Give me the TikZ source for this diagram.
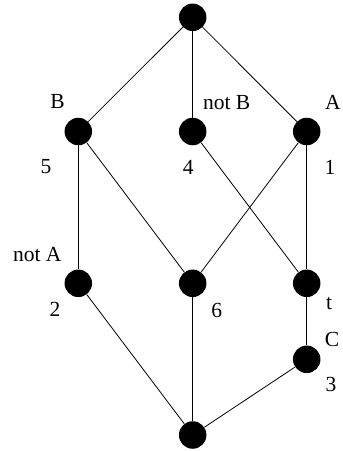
\documentclass[tikz,border=0pt]{standalone}
\usepackage{fontspec}
\setmainfont{Liberation Serif}
\begin{document}
\begin{tikzpicture}[x=1pt,y=-1pt,
  dot/.style={circle,fill=black,draw=none,minimum size=27.5pt,inner sep=0pt},
  lbl/.style={inner sep=0pt,text height=0.66em,text depth=0pt,font=\fontsize{21.5}{25}\selectfont},
  edge/.style={line width=0.8pt}]
\useasboundingbox (0,0) rectangle (343,451);
\node[dot] (top) at (192.7,17.3) {};
\node[dot] (B) at (78.3,131.5) {};
\node[dot] (nB) at (192.7,131.5) {};
\node[dot] (A) at (306.7,131.5) {};
\node[dot] (nA) at (78.3,283.3) {};
\node[dot] (six) at (192.7,283.3) {};
\node[dot] (t) at (306.7,283.3) {};
\node[dot] (C) at (306.7,359.3) {};
\node[dot] (bot) at (192.7,435) {};
\draw[edge] (top) -- (B);
\draw[edge] (top) -- (nB);
\draw[edge] (top) -- (A);
\draw[edge] (B) -- (nA);
\draw[edge] (B) -- (six);
\draw[edge] (nB) -- (t);
\draw[edge] (A) -- (six);
\draw[edge] (A) -- (t);
\draw[edge] (nA) -- (bot);
\draw[edge] (six) -- (bot);
\draw[edge] (t) -- (C);
\draw[edge] (C) -- (bot);
\node[lbl] (lB) at (57.5,105.5) {B};
\node[lbl] (lnB) at (226.7,106) {not B};
\node[lbl] (lA) at (333,106) {A};
\node[lbl] (l5) at (46,170) {5};
\node[lbl] (l4) at (188.3,171) {4};
\node[lbl] (l1) at (330,171) {1};
\node[lbl] (lnA) at (37.3,258.3) {not A};
\node[lbl] (l2) at (55,313.5) {2};
\node[lbl] (l6) at (216.7,314) {6};
\node[lbl] (lt) at (329,306) {t};
\node[lbl] (lC) at (332,343.3) {C};
\node[lbl] (l3) at (331,388.5) {3};
\end{tikzpicture}
\end{document}
